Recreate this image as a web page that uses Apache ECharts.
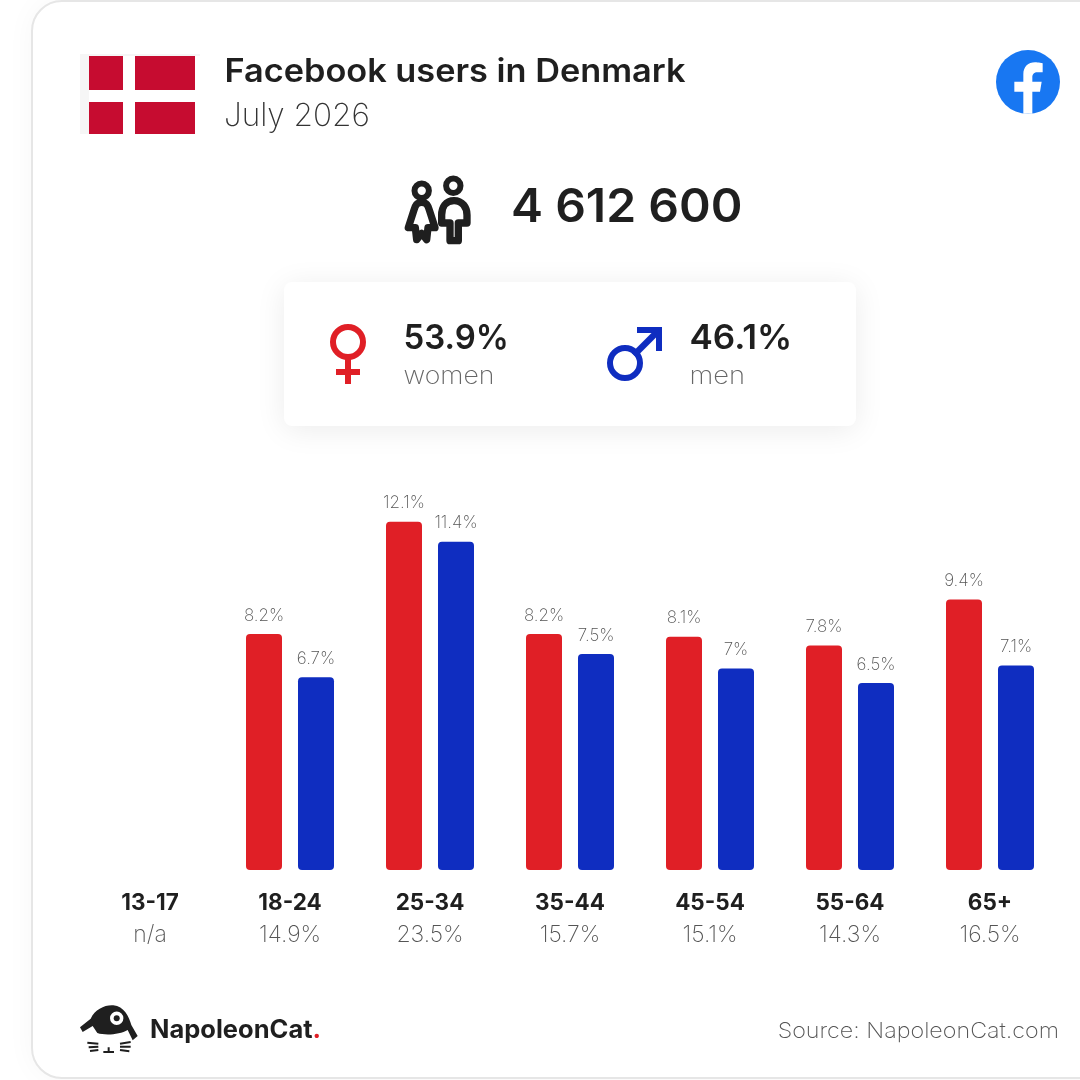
<!DOCTYPE html>
<html><head><meta charset="utf-8">
<script src="https://cdn.jsdelivr.net/npm/echarts@6/dist/echarts.min.js"></script>
<style>html,body{margin:0;padding:0;background:#fff}#c{width:1080px;height:1080px}</style>
</head><body><div id="c"></div>
<script>
const categories = ['13-17','18-24','25-34','35-44','45-54','55-64','65+'];
const shares = ['n/a','14.9%','23.5%','15.7%','15.1%','14.3%','16.5%'];
const women = [null,8.2,12.1,8.2,8.1,7.8,9.4];
const men = [null,6.7,11.4,7.5,7,6.5,7.1];
const titleText = 'Facebook users in Denmark';
const dateText = 'July 2026';
const totalText = '4 612 600';
const womenShare = '53.9%';
const menShare = '46.1%';
const FONT = 'Inter';
const DARK = '#1f1f1f', GREY = '#666666', RED = '#e01f26', BLUE = '#0f2dc0';

function t(x,y,text,size,weight,fill,align,sx){
  return {type:'text',x:x,y:y,scaleX:sx||1,z:5,style:{x:0,y:0,text:text,fontFamily:FONT,fontSize:size,fontWeight:weight,fill:fill,align:align||'left',verticalAlign:'middle'}};
}
let pathId = 0;
function p(pathStr,x,y,s,style){
  const name = 'iconPath' + (pathId++);
  echarts.graphic.registerShape(name, echarts.graphic.extendPath(pathStr, {}));
  return {type:name,x:x,y:y,scaleX:s,scaleY:s,z:4,style:style};
}
const chart = echarts.init(document.getElementById('c'),null,{renderer:'canvas'});
const graphicEls = [
  {type:'rect',z:0,shape:{x:32,y:1,width:1100,height:1077,r:30},style:{fill:'#fff',stroke:'#e6e6e6',lineWidth:2,shadowBlur:30,shadowColor:'rgba(0,0,0,0.04)'}},
  // flag
  {type:'rect',z:1,shape:{x:80,y:54,width:120,height:80},style:{fill:'#f6f6f6'}},
  {type:'rect',z:2,shape:{x:89,y:56,width:111,height:78},style:{fill:'#ffffff'}},
  {type:'rect',z:3,shape:{x:89,y:56,width:34,height:34},style:{fill:'#c60c30'}},
  {type:'rect',z:3,shape:{x:135,y:56,width:60,height:34},style:{fill:'#c60c30'}},
  {type:'rect',z:3,shape:{x:89,y:102,width:34,height:32},style:{fill:'#c60c30'}},
  {type:'rect',z:3,shape:{x:135,y:102,width:60,height:32},style:{fill:'#c60c30'}},
  t(224.5,72,titleText,32,600,DARK,'left',1.072),
  t(224,116,dateText,32,200,'#333','left',0.985),
  // facebook
  {type:'circle',z:3,shape:{cx:1028,cy:82,r:32},style:{fill:'#1877f2'}},
  p('M130 236L130 170L103 170L103 140L130 140L130 118C130 95 145 82 165 82C175 82 188 85 188 85L188 112L172 112C160 112 157 120 157 127L157 140L185 140L180 170L157 170L157 236Z',980,35,1/3,{fill:'#fff'}),
  // people
  {type:'circle',z:4,shape:{cx:421.7,cy:190.7,r:7.2},style:{fill:'none',stroke:DARK,lineWidth:6}},
  {type:'circle',z:4,shape:{cx:453.3,cy:185.7,r:7.2},style:{fill:'none',stroke:DARK,lineWidth:6}},
  p('M95 112C80 112 76 122 72 135L55 188L76 188L80 224L95 205L110 224L114 188L135 188L118 135C114 122 110 112 95 112Z',390,165,1/3,{fill:'none',stroke:DARK,lineWidth:22,lineJoin:'round'}),
  p('M192 107C167 107 155 127 155 150L155 174L180 174L180 227L205 227L205 174L231 174L231 150C231 127 217 107 192 107Z',390,165,1/3,{fill:'none',stroke:DARK,lineWidth:22,lineJoin:'round'}),
  t(511,208,totalText,46,600,DARK,'left',1.045),
  // gender card
  {type:'rect',z:1,shape:{x:284,y:282,width:572,height:144,r:8},style:{fill:'#fff',shadowBlur:30,shadowColor:'rgba(0,0,0,0.08)',shadowOffsetY:4}},
  {type:'circle',z:4,shape:{cx:348,cy:342,r:15},style:{fill:'none',stroke:RED,lineWidth:6}},
  {type:'rect',z:4,shape:{x:345,y:358,width:6,height:26},style:{fill:RED}},
  {type:'rect',z:4,shape:{x:336,y:369,width:24,height:6},style:{fill:RED}},
  t(403.5,338.5,womenShare,34,600,DARK,'left',0.97),
  t(403.5,377,'women',24,200,GREY,'left',1.11),
  {type:'circle',z:4,shape:{cx:625,cy:363,r:15},style:{fill:'none',stroke:BLUE,lineWidth:6}},
  {type:'polygon',z:4,shape:{points:[[637,327],[662,327],[662,351],[656,351],[656,337.5],[636,357.5],[631.5,353],[651.5,333],[637,333]]},style:{fill:BLUE}},
  t(689.5,338.5,menShare,34,600,DARK,'left',1.03),
  t(689.5,377,'men',24,200,GREY,'left',1.14),
  // logo
  p('M60 112L92 86C105 58 135 44 160 46C192 49 207 80 214 105L233 138L218 151L203 120C180 134 135 137 112 129L98 108L68 126Z',60,990,1/3,{fill:DARK}),
  {type:'circle',z:5,shape:{cx:116.7,cy:1018.3,r:6.7},style:{fill:'#fff'}},
  {type:'circle',z:6,shape:{cx:116.7,cy:1018.3,r:3},style:{fill:DARK}},
  p('M82 158L115 161M86 172L115 170M90 183L115 180M180 161L212 156M180 170L212 170M180 180L208 184M130 186L162 186M146 172L146 186',60,990,1/3,{fill:'none',stroke:DARK,lineWidth:6}),
  {type:'text',x:150,y:1030,scaleX:1.02,z:5,style:{text:'{a|NapoleonCat}{b|.}',verticalAlign:'middle',rich:{a:{fontFamily:FONT,fontSize:25,fontWeight:700,fill:DARK},b:{fontFamily:FONT,fontSize:25,fontWeight:700,fill:RED}}}},
  t(1059,1031,'Source: NapoleonCat.com',22,200,'#555','right',1.06)
];
chart.setOption({
  animation:false,
  backgroundColor:'#fff',
  grid:{left:80,right:20,top:467,bottom:210},
  xAxis:{type:'category',data:categories,axisLine:{show:false},axisTick:{show:false},
    axisLabel:{interval:0,margin:17,formatter:(v,i)=>`{a|${v}}\n{b|${shares[i]}}`,
      rich:{a:{fontFamily:FONT,fontSize:22.5,fontWeight:700,color:DARK,lineHeight:32,align:'center'},
            b:{fontFamily:FONT,fontSize:23,fontWeight:200,color:'#555',lineHeight:32,align:'center'}}}},
  yAxis:{type:'value',min:0,max:14,show:false,splitLine:{show:false}},
  series:[
    {name:'women',type:'bar',data:women,barWidth:36,barGap:'44.44%',itemStyle:{color:RED,borderRadius:4},
     label:{show:true,position:'top',distance:10,formatter:o=>o.value+'%',fontFamily:FONT,fontSize:17,fontWeight:200,color:'#555'}},
    {name:'men',type:'bar',data:men,barWidth:36,itemStyle:{color:BLUE,borderRadius:4},
     label:{show:true,position:'top',distance:10,formatter:o=>o.value+'%',fontFamily:FONT,fontSize:17,fontWeight:200,color:'#555'}}
  ],
  graphic:{elements:graphicEls}
});
</script></body></html>
